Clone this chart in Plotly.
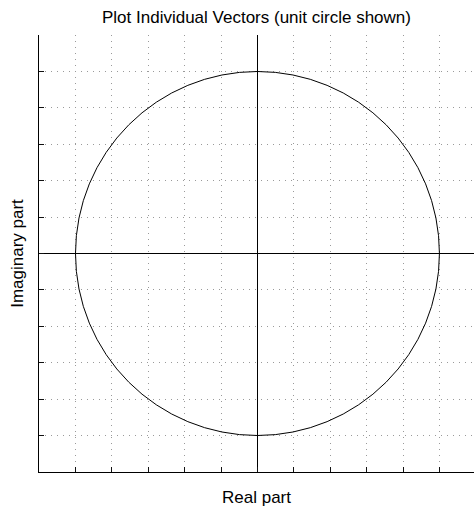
import plotly.graph_objects as go

# Data
TITLE = "Plot Individual Vectors (unit circle shown)"
X_LABEL = "Real part"
Y_LABEL = "Imaginary part"
CIRCLE_CENTER = (0.0, 0.0)
CIRCLE_RADIUS = 1.0
X_RANGE = [-1.2005, 1.19]
Y_RANGE = [-1.2005, 1.2005]
GRID_STEP = 0.2

FONT = "Liberation Sans, Arial, Helvetica, sans-serif"

fig = go.Figure()
# invisible trace so axes render
fig.add_trace(go.Scatter(x=[CIRCLE_CENTER[0]], y=[CIRCLE_CENTER[1]], mode="markers",
                         marker=dict(size=1, color="rgba(0,0,0,0)"), hoverinfo="skip",
                         showlegend=False))

cx, cy = CIRCLE_CENTER
fig.add_shape(type="circle", xref="x", yref="y",
              x0=cx - CIRCLE_RADIUS, y0=cy - CIRCLE_RADIUS,
              x1=cx + CIRCLE_RADIUS, y1=cy + CIRCLE_RADIUS,
              line=dict(color="black", width=1))

axis_common = dict(
    dtick=GRID_STEP, tick0=0,
    showticklabels=False, automargin=False,
    ticks="inside", ticklen=5, tickcolor="#111", tickwidth=1,
    showgrid=True, gridcolor="#9a9a9a", gridwidth=1, griddash="1px,5px",
    zeroline=True, zerolinecolor="black", zerolinewidth=1,
    showline=True, linecolor="black", linewidth=1, mirror=False,
    title_font=dict(family=FONT, size=17, color="black"),
)

fig.update_xaxes(range=X_RANGE, title_text=X_LABEL, title_standoff=19, **axis_common)
fig.update_yaxes(range=Y_RANGE, title_text=Y_LABEL, title_standoff=10, **axis_common)

fig.update_layout(
    width=474, height=510,
    margin=dict(l=39, r=0, t=35, b=38, autoexpand=False),
    paper_bgcolor="white", plot_bgcolor="white",
    title=dict(text=TITLE, x=0.5, xref="paper", y=1 - 17 / 510, yanchor="middle",
               font=dict(family=FONT, size=17, color="black")),
    font=dict(family=FONT, size=17, color="black"),
    showlegend=False,
)

post = ("document.body.style.margin='0';document.body.style.overflow='hidden';"
        "document.documentElement.style.overflow='hidden';"
        "Plotly.relayout(document.getElementById('{plot_id}'), {width:474, height:510});")
fig.write_html("out.html", post_script=post, config={"displayModeBar": False})
